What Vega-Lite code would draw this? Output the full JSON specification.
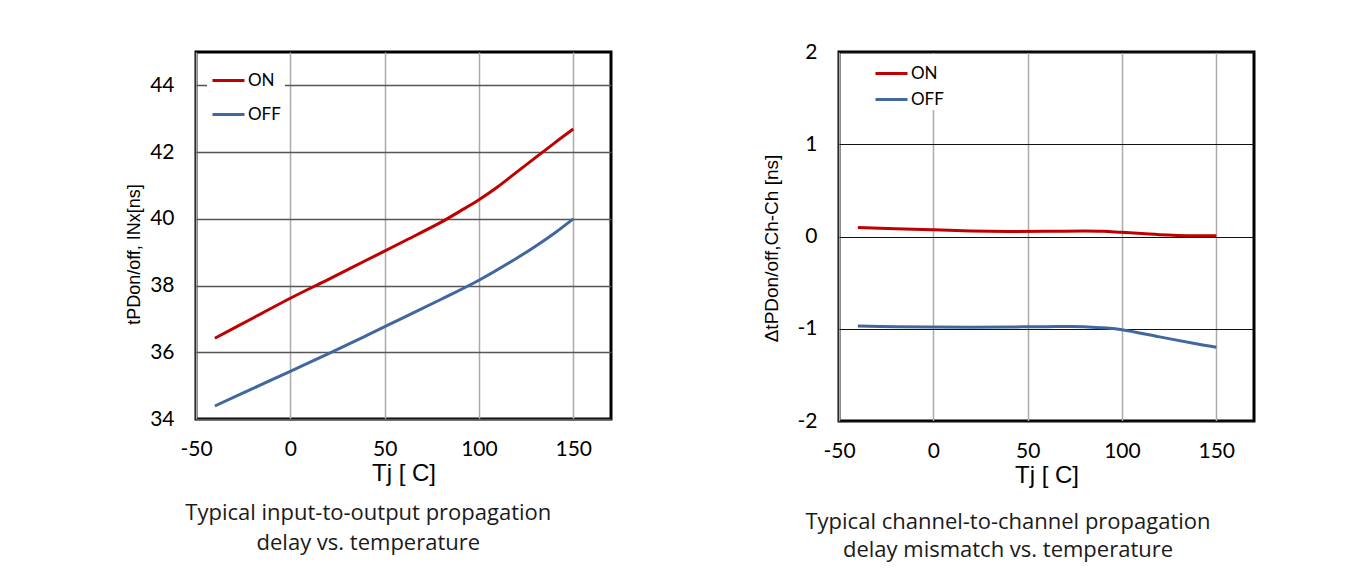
{
  "$schema": "https://vega.github.io/schema/vega-lite/v6.json",
  "background": "white",
  "padding": {"left": 124, "top": 39, "right": 10, "bottom": 10},
  "bounds": "flush",
  "spacing": 228,
  "datasets": {
    "io": [
      {"tj": -40, "series": "ON", "t": 36.42},
      {"tj": -20, "series": "ON", "t": 37.02},
      {"tj": 0, "series": "ON", "t": 37.62},
      {"tj": 20, "series": "ON", "t": 38.18},
      {"tj": 40, "series": "ON", "t": 38.75},
      {"tj": 60, "series": "ON", "t": 39.32},
      {"tj": 80, "series": "ON", "t": 39.9},
      {"tj": 90, "series": "ON", "t": 40.23},
      {"tj": 100, "series": "ON", "t": 40.57},
      {"tj": 110, "series": "ON", "t": 40.96},
      {"tj": 120, "series": "ON", "t": 41.4},
      {"tj": 140, "series": "ON", "t": 42.27},
      {"tj": 150, "series": "ON", "t": 42.69},
      {"tj": -40, "series": "OFF", "t": 34.39},
      {"tj": -20, "series": "OFF", "t": 34.91},
      {"tj": 0, "series": "OFF", "t": 35.43},
      {"tj": 20, "series": "OFF", "t": 35.95},
      {"tj": 40, "series": "OFF", "t": 36.49},
      {"tj": 60, "series": "OFF", "t": 37.04},
      {"tj": 80, "series": "OFF", "t": 37.59},
      {"tj": 100, "series": "OFF", "t": 38.16},
      {"tj": 120, "series": "OFF", "t": 38.82},
      {"tj": 130, "series": "OFF", "t": 39.18},
      {"tj": 140, "series": "OFF", "t": 39.57},
      {"tj": 150, "series": "OFF", "t": 40.0}
    ],
    "chch": [
      {"tj": -40, "series": "ON", "dt": 0.098},
      {"tj": -20, "series": "ON", "dt": 0.085},
      {"tj": 0, "series": "ON", "dt": 0.072},
      {"tj": 20, "series": "ON", "dt": 0.06},
      {"tj": 40, "series": "ON", "dt": 0.055},
      {"tj": 60, "series": "ON", "dt": 0.056},
      {"tj": 80, "series": "ON", "dt": 0.06},
      {"tj": 90, "series": "ON", "dt": 0.057},
      {"tj": 100, "series": "ON", "dt": 0.045},
      {"tj": 120, "series": "ON", "dt": 0.02},
      {"tj": 140, "series": "ON", "dt": 0.008},
      {"tj": 150, "series": "ON", "dt": 0.007},
      {"tj": -40, "series": "OFF", "dt": -0.971},
      {"tj": -20, "series": "OFF", "dt": -0.977},
      {"tj": 0, "series": "OFF", "dt": -0.982},
      {"tj": 20, "series": "OFF", "dt": -0.983},
      {"tj": 40, "series": "OFF", "dt": -0.981},
      {"tj": 60, "series": "OFF", "dt": -0.977},
      {"tj": 80, "series": "OFF", "dt": -0.977},
      {"tj": 90, "series": "OFF", "dt": -0.99},
      {"tj": 100, "series": "OFF", "dt": -1.01},
      {"tj": 120, "series": "OFF", "dt": -1.088},
      {"tj": 140, "series": "OFF", "dt": -1.165},
      {"tj": 150, "series": "OFF", "dt": -1.2}
    ]
  },
  "hconcat": [
    {
      "width": 415,
      "height": 367,
      "data": {"name": "io"},
      "title": {
        "text": ["Typical input-to-output propagation", "delay vs. temperature"],
        "orient": "bottom",
        "anchor": "middle",
        "frame": "bounds",
        "offset": 18
      },
      "mark": {"type": "line", "interpolate": "catmull-rom", "strokeWidth": 3},
      "encoding": {
        "x": {
          "field": "tj",
          "type": "quantitative",
          "scale": {"domain": [-50, 170], "nice": false},
          "axis": {
            "title": "Tj [ C]",
            "values": [-50, 0, 50, 100, 150],
            "gridColor": "#ababab",
            "gridWidth": 1.5
          }
        },
        "y": {
          "field": "t",
          "type": "quantitative",
          "scale": {"domain": [34, 45], "nice": false, "zero": false},
          "axis": {
            "title": "tPDon/off, INx[ns]",
            "values": [34, 36, 38, 40, 42, 44],
            "gridColor": "#555555",
            "gridWidth": 1.5,
            "titleFontSize": 18,
            "titlePadding": 6,
            "titleY": 202
          }
        },
        "color": {
          "field": "series",
          "type": "nominal",
          "scale": {"domain": ["ON", "OFF"], "range": ["#c00000", "#41689e"]},
          "legend": {
            "title": null,
            "orient": "none",
            "legendX": 11,
            "legendY": 7,
            "padding": 4,
            "rowPadding": 8
          }
        }
      }
    },
    {
      "width": 415,
      "height": 369,
      "data": {"name": "chch"},
      "title": {
        "text": ["Typical channel-to-channel propagation", "delay mismatch vs. temperature"],
        "orient": "bottom",
        "anchor": "middle",
        "frame": "bounds",
        "offset": 25,
        "lineHeight": 28
      },
      "mark": {"type": "line", "interpolate": "catmull-rom", "strokeWidth": 3},
      "encoding": {
        "x": {
          "field": "tj",
          "type": "quantitative",
          "scale": {"domain": [-50, 170], "nice": false},
          "axis": {
            "title": "Tj [ C]",
            "values": [-50, 0, 50, 100, 150],
            "gridColor": "#ababab",
            "gridWidth": 1.5
          }
        },
        "y": {
          "field": "dt",
          "type": "quantitative",
          "scale": {"domain": [-2, 2], "nice": false},
          "axis": {
            "title": "ΔtPDon/off,Ch-Ch [ns]",
            "values": [-2, -1, 0, 1, 2],
            "gridColor": "#111111",
            "gridWidth": 1,
            "titleFontSize": 19,
            "titlePadding": 16,
            "titleY": 196
          }
        },
        "color": {
          "field": "series",
          "type": "nominal",
          "scale": {"domain": ["ON", "OFF"], "range": ["#c00000", "#41689e"]},
          "legend": {
            "title": null,
            "orient": "none",
            "legendX": 33,
            "legendY": 2,
            "padding": 2,
            "rowPadding": -1
          }
        }
      }
    }
  ],
  "resolve": {
    "scale": {"x": "independent", "y": "independent", "color": "independent"},
    "legend": {"color": "independent"}
  },
  "config": {
    "view": {"stroke": "black", "strokeWidth": 3},
    "axis": {
      "domain": false,
      "ticks": false,
      "labelFlush": false,
      "labelFont": "Lato",
      "labelFontSize": 21,
      "labelColor": "black",
      "labelPadding": 22,
      "labelExpr": "replace(datum.label, '\u2212', '-')",
      "titleFont": "Liberation Sans",
      "titleFontWeight": "normal",
      "titleColor": "black",
      "titleFontSize": 24
    },
    "axisX": {"labelPadding": 19, "titlePadding": 2},
    "legend": {
      "symbolType": "stroke",
      "symbolSize": 1024,
      "symbolStrokeWidth": 3,
      "labelFont": "Lato",
      "labelFontSize": 17,
      "labelColor": "black",
      "labelOffset": 2,
      "fillColor": "white"
    },
    "title": {
      "font": "Open Sans",
      "fontSize": 22,
      "fontWeight": "normal",
      "color": "#1a1a1a",
      "lineHeight": 30
    }
  }
}
